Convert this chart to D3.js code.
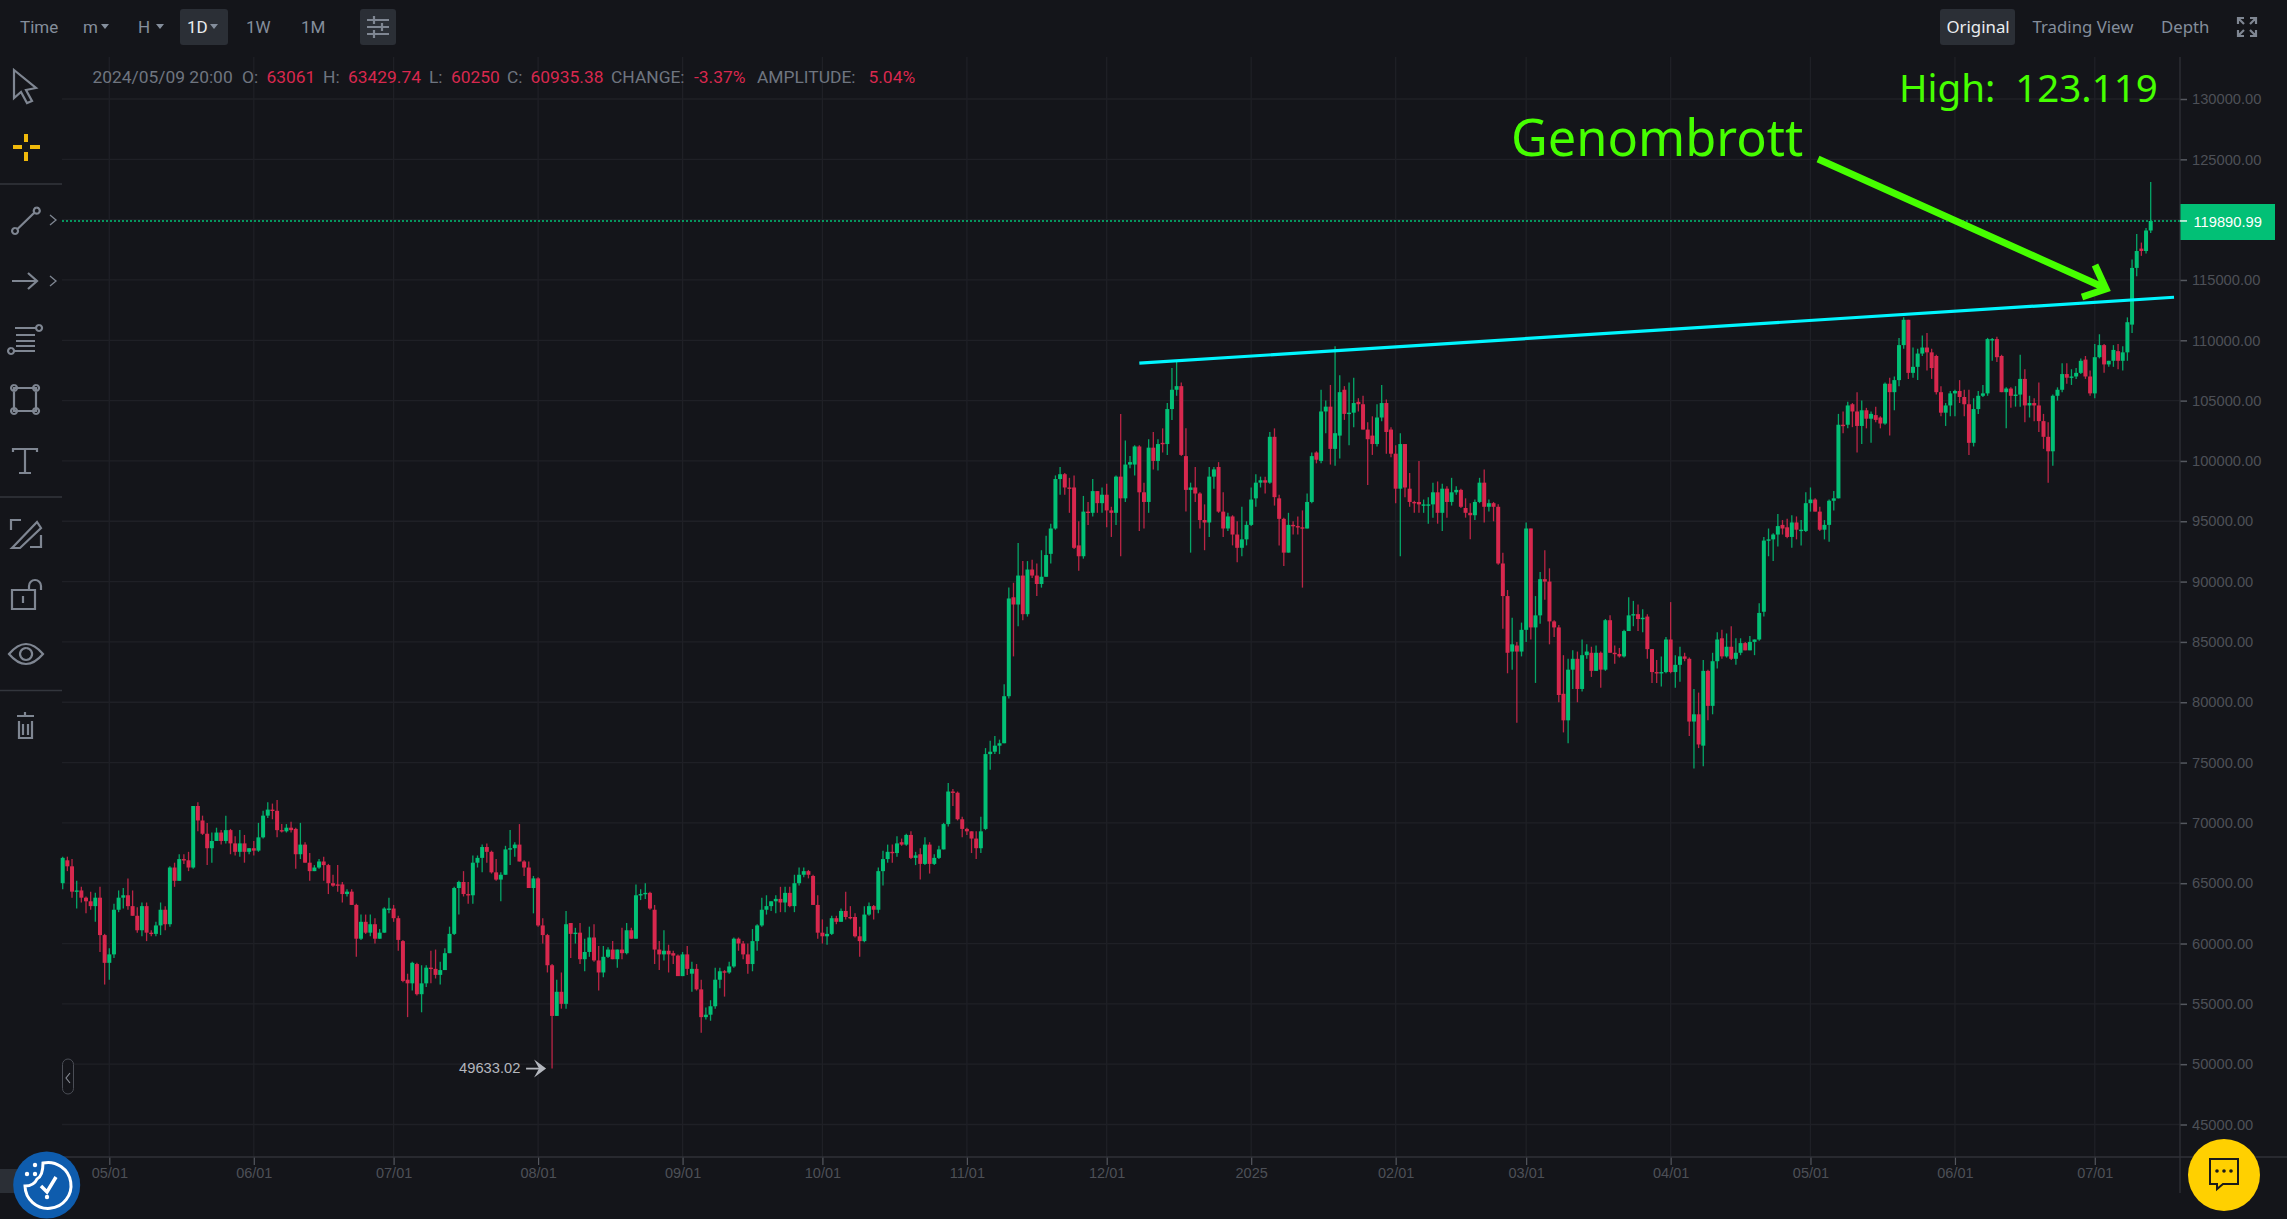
<!DOCTYPE html>
<html>
<head>
<meta charset="utf-8">
<script src="https://cdn.jsdelivr.net/npm/d3@7"></script>
<style>
  html, body { margin: 0; padding: 0; background: #14151a; overflow: hidden; }
  svg { display: block; }
</style>
</head>
<body>
<svg id="chart" width="2287" height="1219"></svg>
<script>
// daily BTC candles in thousands of USD, first candle is 2024/04/21
const firstDay = "2024-04-21";
const opens = [
65.0,66.9,66.4,64.3,64.4,63.8,63.5,63.1,63.8,60.7,
58.4,59.1,62.8,63.8,64.0,63.1,62.3,61.1,63.1,60.9,
60.8,61.5,62.8,61.6,66.3,65.2,67.0,66.9,66.3,71.4,
70.2,69.1,67.9,68.5,69.2,68.5,69.4,68.3,67.6,68.3,
67.6,67.9,67.7,68.8,70.6,71.1,71.0,69.4,69.3,69.6,
69.5,67.4,68.2,66.7,66.0,66.3,66.8,66.5,65.0,64.9,
64.9,64.1,64.3,63.2,60.4,61.8,60.9,61.6,60.4,60.9,
62.8,62.9,62.1,60.2,57.0,56.7,58.3,55.8,56.7,58.0,
57.9,57.4,57.8,59.2,60.8,64.6,65.1,64.1,64.0,66.7,
67.1,68.0,67.6,65.9,65.3,65.7,67.8,67.9,68.2,66.8,
66.3,64.6,65.4,61.5,60.7,58.2,54.0,56.0,55.0,61.7,
60.8,60.9,58.7,59.3,60.5,58.6,57.6,58.9,59.5,58.7,
59.5,59.2,61.1,60.4,64.0,64.1,64.2,62.8,59.5,59.1,
59.4,59.2,59.0,57.3,59.1,57.5,57.9,56.2,53.9,54.1,
54.8,57.0,57.7,57.6,58.1,60.4,60.0,59.1,58.3,60.2,
61.5,62.8,63.1,63.5,63.7,63.4,64.2,63.1,65.0,65.7,
66.0,65.6,63.2,60.9,60.6,60.8,62.1,61.8,62.7,62.2,
62.2,60.6,60.2,62.4,63.1,62.8,66.0,67.0,67.6,67.5,
68.4,68.2,69.0,67.1,67.4,66.6,68.2,66.6,67.1,67.8,
69.9,72.6,72.5,70.3,69.5,69.3,68.7,67.9,69.5,75.7,
75.9,76.4,76.6,80.5,88.7,88.1,90.5,87.3,91.0,90.5,
89.8,90.4,92.3,94.4,98.5,98.9,97.8,97.8,93.0,92.1,
95.8,95.7,97.5,96.5,97.2,95.9,95.7,98.7,96.9,99.7,
99.7,101.2,97.4,96.6,101.1,100.0,101.5,101.4,104.3,105.9,
106.2,100.4,97.6,97.8,97.3,95.1,94.9,98.7,99.5,95.8,
94.4,95.4,93.9,92.8,93.5,94.7,96.9,98.2,98.4,98.2,
102.0,96.9,95.2,92.4,94.7,94.6,94.5,94.4,96.6,100.7,
100.0,104.1,104.5,101.0,102.1,105.9,103.9,104.0,104.9,104.7,
102.6,102.1,101.4,103.6,104.8,102.6,100.6,97.7,101.4,97.7,
96.6,96.6,96.3,96.3,96.4,97.4,95.7,97.7,96.6,97.4,
97.6,96.1,95.7,95.5,96.6,98.2,96.2,96.5,96.2,91.5,
88.8,84.2,84.7,84.2,86.0,94.4,86.2,87.2,90.2,90.0,
86.7,86.2,80.7,78.5,82.7,83.6,81.1,83.9,84.1,82.6,
84.1,82.7,86.8,84.1,84.0,83.8,85.9,87.2,87.3,86.9,
87.1,84.4,82.5,82.4,82.5,85.2,82.5,83.1,83.8,83.6,
78.4,79.0,76.4,82.6,79.7,83.4,85.3,83.8,84.6,83.6,
84.1,84.9,84.3,85.0,85.2,87.5,93.4,93.5,93.9,94.7,
94.5,93.7,94.9,94.2,94.2,96.5,96.8,95.8,94.3,94.7,
96.7,96.9,103.0,103.0,104.7,104.1,102.9,104.2,103.5,103.8,
103.6,103.1,106.4,105.7,106.7,109.6,111.7,107.3,107.8,108.9,
109.4,109.0,108.7,105.7,104.0,104.6,105.6,105.8,105.3,104.7,
101.5,104.3,105.4,105.6,110.0,110.1,108.7,105.7,106.0,105.4,
105.5,106.8,104.6,104.8,104.6,103.3,102.0,100.8,105.4,105.9,
107.2,106.9,107.0,107.3,108.4,107.0,105.6,108.6,109.6,108.0,
108.3,109.1,108.3,109.0,111.3,116.0,117.6,117.4,119.1];
const highs = [
67.2,67.2,67.0,65.2,64.7,63.9,64.3,64.2,64.7,60.8,
59.6,63.3,64.4,64.6,65.4,64.4,63.0,63.4,63.4,61.1,
61.8,63.4,63.1,66.4,66.7,67.4,67.4,67.6,71.4,71.7,
70.6,70.0,69.2,69.6,69.4,70.6,69.5,68.9,69.4,69.0,
67.9,68.5,70.0,71.0,71.7,71.6,71.9,69.9,69.9,70.1,
69.6,70.0,68.4,67.5,66.5,67.0,67.2,66.6,65.7,66.5,
65.1,64.5,64.5,63.3,62.4,62.4,62.4,62.1,61.2,63.0,
63.8,63.2,62.3,60.3,57.5,58.5,58.4,58.2,58.2,59.4,
59.5,58.5,59.6,61.4,64.7,65.2,66.0,65.1,67.3,67.3,
68.2,68.3,67.7,67.0,65.9,68.1,69.4,68.4,69.9,66.9,
66.8,65.6,65.5,62.1,60.8,58.3,57.0,57.6,62.7,61.7,
61.3,61.7,60.4,61.4,61.6,59.8,59.8,59.7,60.2,59.5,
61.3,61.7,61.3,64.9,64.5,65.0,64.3,63.2,60.2,61.1,
59.9,59.4,59.1,59.3,59.8,58.5,58.3,57.0,54.7,55.3,
58.0,58.0,57.8,58.5,60.5,60.5,60.2,60.0,61.2,61.6,
63.8,64.0,63.5,64.0,64.7,64.7,64.7,65.7,66.3,66.3,
66.1,65.7,64.0,62.0,61.4,62.3,62.3,62.9,64.3,63.1,
62.5,61.4,63.1,63.4,63.2,66.3,67.7,68.2,68.2,68.9,
68.7,69.1,69.3,67.6,67.9,68.8,68.4,67.4,68.1,70.0,
73.3,72.8,72.6,70.5,69.6,69.3,69.3,70.5,76.2,76.8,
77.2,76.9,81.5,89.5,89.9,93.2,91.7,91.7,91.8,91.5,
92.6,93.8,94.8,98.8,99.5,99.0,98.6,98.8,95.0,97.1,
96.6,98.5,97.5,97.8,98.1,96.2,98.8,103.9,101.7,100.4,
101.3,101.3,98.2,101.8,102.4,101.8,102.7,104.8,107.7,108.2,
106.5,102.7,98.2,99.5,97.4,96.4,99.5,99.5,99.9,97.4,
95.7,95.5,95.0,96.2,95.0,97.8,98.9,98.7,98.7,102.4,
102.7,97.2,95.3,95.7,95.0,95.4,95.9,97.3,100.7,100.8,
105.9,105.0,106.3,109.5,107.1,106.2,106.5,106.9,105.2,105.4,
103.2,103.7,104.7,106.3,105.1,102.8,101.3,102.3,101.4,99.0,
96.7,100.0,96.8,97.0,98.2,98.3,98.1,97.9,98.6,97.9,
97.7,96.9,96.5,96.8,98.6,99.3,96.8,96.6,96.4,92.4,
89.3,87.0,85.0,86.6,94.9,94.4,88.8,90.8,92.6,91.1,
86.8,86.4,83.9,83.6,84.3,84.2,85.2,84.8,84.6,84.7,
84.2,86.9,87.2,84.7,84.5,86.0,88.7,88.4,88.1,87.7,
87.3,84.4,83.5,83.8,85.4,88.3,83.9,84.6,84.1,83.7,
81.1,80.8,83.5,82.7,84.1,85.8,86.0,85.7,86.3,85.3,
85.3,85.0,85.5,85.2,88.2,93.7,94.4,94.0,95.6,95.1,
95.2,95.5,95.4,95.1,97.4,97.8,96.9,96.2,95.1,96.8,
97.5,103.9,104.1,104.9,104.8,105.7,105.0,104.4,104.1,104.5,
103.7,106.5,106.9,107.0,110.2,111.9,111.7,109.4,109.3,110.4,
110.6,109.3,108.8,106.2,104.8,105.8,105.9,106.7,105.9,105.9,
105.2,105.8,106.3,110.2,110.2,110.3,108.8,106.1,106.1,106.2,
108.8,107.6,105.4,105.2,106.5,103.9,103.2,105.5,106.1,108.1,
108.1,107.6,107.7,108.5,108.7,107.5,109.7,110.5,109.7,108.3,
109.6,109.7,109.5,111.9,116.7,118.8,118.1,119.3,123.119];
const lows = [
64.5,66.0,63.8,62.9,63.4,62.5,62.8,61.8,59.3,56.6,
57.0,58.8,62.6,62.9,62.8,62.3,60.9,60.6,60.2,60.6,
60.6,60.7,61.1,61.4,64.7,65.2,66.6,66.0,66.2,69.3,
69.0,66.5,66.7,68.5,68.2,68.3,67.4,67.3,67.2,66.7,
67.4,67.3,67.6,68.7,70.4,70.3,68.8,69.2,69.2,69.2,
66.2,67.0,66.7,65.2,66.0,66.2,65.2,64.1,64.7,64.3,
63.4,63.9,63.2,58.9,60.3,60.8,60.6,60.0,60.4,60.9,
62.5,61.8,59.4,56.8,53.9,56.1,55.7,54.3,56.4,56.7,
57.1,56.6,57.8,59.2,60.7,62.4,63.9,63.3,63.3,66.3,
65.9,66.7,65.8,65.2,63.5,65.7,66.5,67.2,66.8,65.6,
64.6,62.5,61.4,60.0,57.6,49.63302,54.0,54.6,54.6,58.8,
60.0,58.3,57.7,58.9,58.5,56.1,57.2,58.8,58.7,58.0,
58.7,59.1,60.4,60.4,63.6,63.7,62.8,58.3,57.8,58.6,
57.6,58.3,57.3,57.3,57.4,56.0,56.1,52.6,53.7,53.6,
54.6,56.3,55.6,57.5,58.0,59.4,58.7,57.5,57.7,59.4,
61.4,62.4,62.7,62.5,62.6,62.6,63.0,62.6,64.8,65.5,
65.4,63.2,60.4,60.0,59.9,60.7,61.6,61.8,62.0,62.0,
60.5,58.9,60.1,62.3,62.0,62.5,64.8,66.7,66.7,67.2,
68.1,68.1,67.0,66.5,65.3,66.5,65.8,66.5,67.0,67.8,
69.7,71.4,70.2,68.8,69.0,67.5,67.0,67.5,69.4,74.4,
75.7,75.7,76.6,80.3,83.8,86.3,86.8,87.1,90.3,88.8,
89.5,90.4,91.5,94.3,97.2,97.2,95.7,92.7,90.9,91.9,
94.7,95.4,95.7,95.7,94.5,93.7,94.7,92.1,96.6,99.4,
98.8,94.2,94.4,95.7,99.3,99.2,100.7,100.5,103.4,105.4,
100.4,95.8,92.4,96.6,94.4,92.6,93.7,97.7,95.7,93.7,
94.2,93.0,91.6,92.1,93.0,94.6,96.2,97.8,97.3,98.1,
96.3,93.0,91.3,92.4,93.9,93.9,89.5,94.4,96.5,99.8,
99.8,102.3,99.7,99.6,100.2,103.4,101.3,102.8,104.1,102.6,
98.0,100.5,101.2,103.3,100.6,100.3,96.5,92.1,97.0,96.2,
95.7,95.7,95.7,94.8,95.3,94.8,94.2,95.3,96.3,97.2,
96.1,95.3,93.5,95.1,96.5,94.9,95.8,95.0,91.4,86.1,
82.4,82.7,78.3,83.8,85.0,85.2,81.6,86.5,88.5,84.8,
85.4,80.0,77.5,76.6,81.1,80.0,80.9,83.6,82.1,82.6,
81.2,82.6,84.1,83.2,83.7,83.7,85.9,86.3,85.9,85.8,
83.6,81.6,81.6,81.3,82.4,82.4,81.2,81.7,83.4,77.2,
74.5,76.2,74.7,78.5,79.0,82.8,83.6,83.7,83.5,83.1,
83.9,84.3,84.3,83.9,85.1,87.1,92.1,91.7,92.9,93.9,
93.6,92.8,93.5,93.0,94.1,95.8,95.8,94.2,93.5,93.3,
95.9,96.9,102.3,102.7,102.8,100.7,101.4,102.7,101.5,103.2,
102.7,103.0,102.1,104.2,106.2,109.3,106.8,106.9,106.7,108.7,
107.5,106.8,105.5,103.7,102.9,103.7,103.7,104.8,103.7,100.5,
101.2,103.9,105.3,105.4,108.3,108.2,105.7,102.7,104.4,104.5,
104.5,103.2,103.6,103.3,102.4,101.0,98.2,99.6,105.0,105.7,
106.4,106.3,106.8,107.2,106.8,105.4,105.2,108.5,107.3,107.8,
107.8,107.6,107.5,108.3,110.6,115.3,117.0,117.2,118.9];
const closes = [
67.1,66.4,64.3,64.4,63.8,63.5,63.1,63.8,60.7,58.4,
59.1,62.8,63.8,64.0,63.1,62.3,61.1,63.1,60.9,60.8,
61.5,62.8,61.6,66.3,65.2,67.0,66.9,66.3,71.4,70.2,
69.1,67.9,68.5,69.2,68.5,69.4,68.3,67.6,68.3,67.6,
67.9,67.7,68.8,70.6,71.1,71.0,69.4,69.3,69.6,69.4,
67.4,68.2,66.7,66.0,66.3,66.8,66.5,65.0,64.8,64.8,
64.1,64.3,63.2,60.4,61.8,60.9,61.6,60.4,60.9,62.9,
62.9,62.1,60.3,56.9,56.7,58.4,55.8,56.7,58.0,57.9,
57.4,57.8,59.2,60.8,64.6,65.1,64.1,64.0,66.7,67.1,
68.0,67.6,65.9,65.3,65.7,67.8,67.9,68.2,66.8,66.3,
64.6,65.4,61.5,60.7,58.2,54.0,56.0,55.0,61.6,60.8,
60.9,58.7,59.3,60.5,58.6,57.6,58.9,59.5,58.7,59.5,
59.2,61.1,60.4,64.0,64.1,64.2,62.9,59.5,59.1,59.4,
59.1,59.0,57.3,59.1,57.9,57.9,56.2,53.9,54.1,54.8,
57.0,57.7,57.6,58.1,60.4,60.0,59.1,58.3,60.2,61.5,
62.8,63.1,63.5,63.7,63.4,64.2,63.1,65.0,65.7,66.0,
65.7,63.2,60.9,60.6,60.8,62.1,61.8,62.7,62.2,62.1,
60.6,60.2,62.4,63.1,62.8,66.0,67.0,67.6,67.5,68.3,
68.2,69.0,67.1,67.3,66.6,68.2,66.6,67.1,67.8,69.9,
72.6,72.5,70.3,69.5,69.3,68.7,67.9,69.3,75.7,75.9,
76.4,76.6,80.5,88.6,88.1,90.5,87.3,91.0,90.5,89.8,
90.4,92.2,94.4,98.5,98.9,97.8,97.7,92.8,92.1,95.8,
95.7,97.5,96.5,97.2,95.9,95.7,98.7,96.9,99.7,99.9,
101.2,97.4,96.6,101.1,100.0,101.4,101.4,104.3,105.9,106.2,
100.5,97.6,97.8,97.3,95.1,94.9,98.7,99.3,95.8,94.4,
95.4,93.9,92.8,93.5,94.7,96.8,98.2,98.4,98.2,102.0,
97.0,95.2,92.4,94.7,94.6,94.5,94.4,96.6,100.4,100.1,
104.1,104.5,101.0,102.3,105.7,103.9,104.0,104.8,104.7,102.6,
101.8,101.4,103.6,104.8,102.4,100.6,97.7,101.4,97.8,96.6,
96.5,96.4,96.4,96.4,97.4,95.7,97.7,96.6,97.4,97.6,
96.2,95.7,95.5,96.6,98.2,96.2,96.5,96.2,91.5,88.8,
84.1,84.8,84.2,86.0,94.4,86.2,87.2,90.2,90.0,86.7,
86.2,80.6,78.5,82.7,83.6,81.1,83.9,84.2,82.6,84.1,
82.7,86.8,84.1,84.0,83.8,85.9,87.2,87.3,86.9,87.0,
84.4,82.5,82.4,82.5,85.2,82.5,83.1,83.8,83.6,78.4,
79.0,76.5,82.6,79.7,83.4,85.2,83.8,84.6,83.6,84.1,
84.9,84.3,85.0,85.2,87.4,93.4,93.5,93.9,94.6,94.4,
93.7,94.9,94.3,94.3,96.5,96.8,95.8,94.3,94.7,96.7,
96.9,103.0,102.9,104.6,104.1,102.9,104.2,103.5,103.9,103.4,
103.1,106.4,105.7,106.7,109.6,111.7,107.3,107.8,108.9,109.4,
109.0,107.7,105.7,104.0,104.6,105.6,105.8,105.3,104.7,101.5,
104.3,105.4,105.6,110.1,110.1,108.6,105.7,106.0,105.4,105.5,
106.8,104.6,104.8,104.6,103.3,102.0,100.8,105.4,105.9,107.2,
106.9,107.0,107.3,108.3,107.0,105.6,108.6,109.6,108.0,108.3,
109.2,108.3,109.0,111.5,116.0,117.4,117.4,119.1,119.89099];

const priceTicks = [45000,50000,55000,60000,65000,70000,75000,80000,85000,90000,95000,100000,105000,110000,115000,120000,125000,130000];
const dateTicks = ["2024-05-01","2024-06-01","2024-07-01","2024-08-01","2024-09-01","2024-10-01","2024-11-01","2024-12-01","2025-01-01","2025-02-01","2025-03-01","2025-04-01","2025-05-01","2025-06-01","2025-07-01"];
const dateLabels = ["05/01","06/01","07/01","08/01","09/01","10/01","11/01","12/01","2025","02/01","03/01","04/01","05/01","06/01","07/01"];
const lastPrice = 119890.99;
const lowestPrice = 49633.02;
const trendDates = ["2024-12-08","2025-07-18"];
const trendPrices = [108100,113570];

const bg = "#14151a", gridCol = "#1f2026", axisCol = "#2f3137", tickCol = "#4d5057";
const upCol = "#02c076", downCol = "#d8284e", neon = "#46ff00", iconCol = "#7f8692";
const uiFont = "Roboto, 'Liberation Sans', sans-serif", axisFont = "'Liberation Sans', Arial, sans-serif";

const svg = d3.select("#chart");
svg.append("rect").attr("width", 2287).attr("height", 1219).attr("fill", bg);

const parse = d3.utcParse("%Y-%m-%d");
const start = parse(firstDay);
const candles = opens.map((o, i) => ({
  date: d3.utcDay.offset(start, i),
  open: o * 1000, high: highs[i] * 1000, low: lows[i] * 1000, close: closes[i] * 1000
}));

const xScale = d3.scaleUtc()
  .domain([candles[0].date, candles[candles.length - 1].date])
  .range([62.7, 2150.7]);
const yScale = d3.scaleLinear().domain([45000, 130000]).range([1124.5, 99]);

const plotL = 62, plotR = 2180, plotT = 57, plotB = 1157;

// grid
svg.append("g").selectAll("line").data(priceTicks).enter().append("line")
  .attr("x1", plotL).attr("x2", plotR)
  .attr("y1", d => yScale(d)).attr("y2", d => yScale(d))
  .attr("stroke", gridCol).attr("stroke-width", 1.3);
svg.append("g").selectAll("line").data(dateTicks).enter().append("line")
  .attr("x1", d => xScale(parse(d))).attr("x2", d => xScale(parse(d)))
  .attr("y1", plotT).attr("y2", plotB)
  .attr("stroke", gridCol).attr("stroke-width", 1.3);

// axes
const yAxis = d3.axisRight(yScale).tickValues(priceTicks).tickFormat(d3.format(".2f")).tickSize(7).tickPadding(5);
const yG = svg.append("g").attr("transform", `translate(${plotR},0)`).call(yAxis);
yG.select(".domain").remove();
yG.selectAll("line").attr("stroke", "#55585f").attr("stroke-width", 1.5);
yG.selectAll("text").attr("fill", tickCol).attr("font-family", axisFont).attr("font-size", 14.7);

const xAxis = d3.axisBottom(xScale)
  .tickValues(dateTicks.map(parse))
  .tickFormat((d, i) => dateLabels[i])
  .tickSize(8).tickPadding(3);
const xG = svg.append("g").attr("transform", `translate(0,${plotB})`).call(xAxis);
xG.select(".domain").remove();
xG.selectAll("line").attr("stroke", "#55585f").attr("stroke-width", 1.2);
xG.selectAll("text").attr("fill", tickCol).attr("font-family", axisFont).attr("font-size", 14.5);

svg.append("line").attr("x1", plotL).attr("x2", 2287).attr("y1", plotB).attr("y2", plotB).attr("stroke", axisCol).attr("stroke-width", 1.3);
svg.append("line").attr("x1", plotR).attr("x2", plotR).attr("y1", plotT).attr("y2", 1193).attr("stroke", axisCol).attr("stroke-width", 1.3);

// current price line
svg.append("line")
  .attr("x1", plotL).attr("x2", plotR)
  .attr("y1", yScale(lastPrice)).attr("y2", yScale(lastPrice))
  .attr("stroke", upCol).attr("stroke-width", 1.5).attr("stroke-dasharray", "2 2");

// candles: wick first, then body
const candleCol = d => d.close >= d.open ? upCol : downCol;
const candleG = svg.append("g");
candleG.selectAll(".wick").data(candles).enter().append("line")
  .attr("class", "wick")
  .attr("x1", d => xScale(d.date)).attr("x2", d => xScale(d.date))
  .attr("y1", d => yScale(d.high)).attr("y2", d => yScale(d.low))
  .attr("stroke", candleCol).attr("stroke-width", 1.3).attr("stroke-opacity", 0.85);
candleG.selectAll(".body").data(candles).enter().append("rect")
  .attr("class", "body")
  .attr("x", d => xScale(d.date) - 2)
  .attr("width", 4)
  .attr("y", d => yScale(Math.max(d.open, d.close)))
  .attr("height", d => Math.max(1.4, Math.abs(yScale(d.open) - yScale(d.close))))
  .attr("fill", candleCol);

// price tag
svg.append("rect").attr("x", 2180.5).attr("y", 204).attr("width", 94.5).attr("height", 36).attr("fill", upCol);
svg.append("line").attr("x1", 2180).attr("x2", 2187).attr("y1", yScale(lastPrice)).attr("y2", yScale(lastPrice)).attr("stroke", "#e8f5ee").attr("stroke-width", 1.5);
svg.append("text").attr("x", 2193.5).attr("y", 222).attr("dy", "0.35em").text(d3.format(".2f")(lastPrice))
  .attr("fill", "#fff").attr("font-family", axisFont).attr("font-size", 14.7);

// lowest price marker
const lowCandle = candles[d3.minIndex(candles, d => d.low)];
const lowX = xScale(lowCandle.date), lowY = yScale(lowestPrice);
svg.append("text").attr("x", lowX - 93).attr("y", lowY).attr("dy", "0.3em").text(lowestPrice.toFixed(2))
  .attr("fill", "#b4b7be").attr("font-family", axisFont).attr("font-size", 14.7);
svg.append("path")
  .attr("d", `M${lowX - 26} ${lowY}H${lowX - 12}`)
  .attr("fill", "none").attr("stroke", "#b4b7be").attr("stroke-width", 1.8);
svg.append("path")
  .attr("d", `M${lowX - 18} ${lowY - 9}L${lowX - 6} ${lowY}L${lowX - 18} ${lowY + 9}L${lowX - 13} ${lowY}Z`)
  .attr("fill", "#b4b7be");

// drawn trend line
const trendLine = d3.line().x((d, i) => xScale(parse(trendDates[i]))).y(d => yScale(d));
svg.append("path").attr("d", trendLine(trendPrices)).attr("fill", "none").attr("stroke", "#00f6ff").attr("stroke-width", 3.2);

// annotation arrow and texts
svg.append("path")
  .attr("d", "M1818 159L2105 288M2095 265L2106 289L2082 297")
  .attr("fill", "none").attr("stroke", neon).attr("stroke-width", 7);
svg.append("text").attr("x", 1511).attr("y", 156).text("Genombrott")
  .attr("fill", neon).attr("font-family", "'Noto Sans', sans-serif").attr("font-size", 50.5);
svg.append("text").attr("x", 1899).attr("y", 102).attr("xml:space", "preserve").text("High:  123.119")
  .attr("fill", neon).attr("font-family", "'Noto Sans', sans-serif").attr("font-size", 38.5);

// top toolbar
const topItems = [["Time", 20, "#848e9c"], ["m", 83, "#848e9c"], ["H", 138, "#848e9c"], ["1D", 187, "#eaecef"], ["1W", 246, "#848e9c"], ["1M", 301, "#848e9c"]];
svg.append("rect").attr("x", 180).attr("y", 9).attr("width", 48).attr("height", 36).attr("rx", 3).attr("fill", "#2b2f36");
svg.append("rect").attr("x", 360).attr("y", 9).attr("width", 36).attr("height", 36).attr("rx", 3).attr("fill", "#2b2f36");
svg.selectAll(".topItem").data(topItems).enter().append("text")
  .attr("class", "topItem").attr("x", d => d[1]).attr("y", 27).attr("dy", "0.35em").text(d => d[0])
  .attr("fill", d => d[2]).attr("font-family", uiFont).attr("font-size", 17);
svg.append("path").attr("d", "M101 24h8l-4 5zM156 24h8l-4 5zM210 24h8l-4 5z").attr("fill", "#848e9c");
svg.append("path").attr("d", "M367 20H389M367 27H389M367 34H389M374 16V24M382 23V31M374 30V38")
  .attr("stroke", iconCol).attr("stroke-width", 2.2).attr("fill", "none");

const rightItems = [["Original", 1946.5, "#eaecef"], ["Trading View", 2032.5, "#848e9c"], ["Depth", 2161, "#848e9c"]];
svg.append("rect").attr("x", 1940).attr("y", 9).attr("width", 75).attr("height", 36).attr("rx", 3).attr("fill", "#2b2f36");
svg.selectAll(".rightItem").data(rightItems).enter().append("text")
  .attr("class", "rightItem").attr("x", d => d[1]).attr("y", 27).attr("dy", "0.35em").text(d => d[0])
  .attr("fill", d => d[2]).attr("font-family", "'Noto Sans', sans-serif").attr("font-size", 16.8);
svg.append("path").attr("d", "M2238 24V18H2244M2238 18L2244 24M2256 24V18H2250M2256 18L2250 24M2238 30V36H2244M2238 36L2244 30M2256 30V36H2250M2256 36L2250 30")
  .attr("stroke", iconCol).attr("stroke-width", 2.2).attr("fill", "none");

// candle info row
const grayTxt = "#6f7580", redTxt = "#d8284e";
const infoItems = [
  ["2024/05/09 20:00", 92.5, grayTxt], ["O:", 242, grayTxt], ["63061", 266.5, redTxt], ["H:", 323, grayTxt], ["63429.74", 348, redTxt],
  ["L:", 429, grayTxt], ["60250", 451, redTxt], ["C:", 507, grayTxt], ["60935.38", 530.5, redTxt], ["CHANGE:", 611, grayTxt],
  ["-3.37%", 694, redTxt], ["AMPLITUDE:", 757, grayTxt], ["5.04%", 868.5, redTxt]
];
svg.selectAll(".info").data(infoItems).enter().append("text")
  .attr("class", "info").attr("x", d => d[1]).attr("y", 76.5).attr("dy", "0.35em").text(d => d[0])
  .attr("fill", d => d[2]).attr("font-family", uiFont).attr("font-size", 17.4);

// left toolbar
svg.selectAll(".sep").data([184, 497, 690.5]).enter().append("line")
  .attr("class", "sep").attr("x1", 0).attr("x2", 62).attr("y1", d => d).attr("y2", d => d)
  .attr("stroke", "#33363d").attr("stroke-width", 1.3);
const toolIcons = [
  "M14 70L36 88L26 90L32 101L27 103L21 92L14 98Z",
  "M15 228a3 3 0 1 0 .1 0M36.7 207.7a3 3 0 1 0 .1 0M17.5 229L34 213",
  "M12 281H37M28 273L37 281L28 289",
  "M15 328H36M16 335H35M16 341H35M14 351H35M39 325a3 3 0 1 0 .1 0M11 348a3 3 0 1 0 .1 0M16 346H35",
  "M14 388H36V411H14ZM14 385a3 3 0 1 0 .1 0M36 385a3 3 0 1 0 .1 0M14 408a3 3 0 1 0 .1 0M36 408a3 3 0 1 0 .1 0",
  "M13 452V449H37V452M25 449V473M19 473H31",
  "M11 530V520H21M41 535V547H30M13 547L37 522L41 528L20 548H12Z",
  "M12 590H35V609H12ZM23 596V603M29 590V586a6 6 0 0 1 12 0V590",
  "M9 654Q26 634 43 654Q26 674 9 654ZM26 648a6 6 0 1 0 .1 0",
  "M17 716H34M25 712V716M19 721V738H32V721M23 724V735M28 724V735"
];
svg.selectAll(".tool").data(toolIcons).enter().append("path")
  .attr("class", "tool").attr("d", d => d)
  .attr("fill", "none").attr("stroke", iconCol).attr("stroke-width", 2.2);
svg.append("path").attr("d", "M13 147H22M30 147H40M26 134V142M26 152V161")
  .attr("stroke", "#f0b90b").attr("stroke-width", 4).attr("fill", "none");
svg.append("path").attr("d", "M50 215L56 220L50 225M50 276L56 281L50 286")
  .attr("stroke", iconCol).attr("stroke-width", 1.3).attr("fill", "none");

// collapse handle
svg.append("rect").attr("x", 62.5).attr("y", 1059).attr("width", 11).attr("height", 35).attr("rx", 5.5)
  .attr("fill", bg).attr("stroke", "#4a4d55").attr("stroke-width", 1);
svg.append("path").attr("d", "M70 1073L66 1078L70 1083").attr("stroke", "#8a8e96").attr("stroke-width", 1.1).attr("fill", "none");

// cookie badge
svg.append("rect").attr("x", 0).attr("y", 1169).attr("width", 20).attr("height", 24).attr("fill", "#2b2f36");
svg.append("circle").attr("cx", 46.7).attr("cy", 1185).attr("r", 33.5).attr("fill", "#0e5cad");
svg.append("path").attr("d", "M43 1163A23 23 0 1 1 25 1186Q34 1186 37 1179Q43 1176 43 1163Z")
  .attr("fill", "none").attr("stroke", "#fff").attr("stroke-width", 3);
svg.append("path").attr("d", "M41 1186L47 1192L56 1177").attr("fill", "none").attr("stroke", "#fff").attr("stroke-width", 3.5);
svg.selectAll(".crumb").data([[35, 1165], [27, 1174], [35, 1174], [47, 1197]]).enter().append("circle")
  .attr("class", "crumb").attr("cx", d => d[0]).attr("cy", d => d[1]).attr("r", 2.2).attr("fill", "#fff");

// chat button
svg.append("circle").attr("cx", 2224).attr("cy", 1175).attr("r", 36).attr("fill", "#ffd000");
svg.append("path").attr("d", "M2210 1159H2238V1184H2223L2217 1189V1184H2210Z")
  .attr("fill", "none").attr("stroke", "#1a1a1a").attr("stroke-width", 2);
svg.selectAll(".dot").data([2217, 2224, 2231]).enter().append("circle")
  .attr("class", "dot").attr("cx", d => d).attr("cy", 1171).attr("r", 1.8).attr("fill", "#1a1a1a");
</script>
</body>
</html>
